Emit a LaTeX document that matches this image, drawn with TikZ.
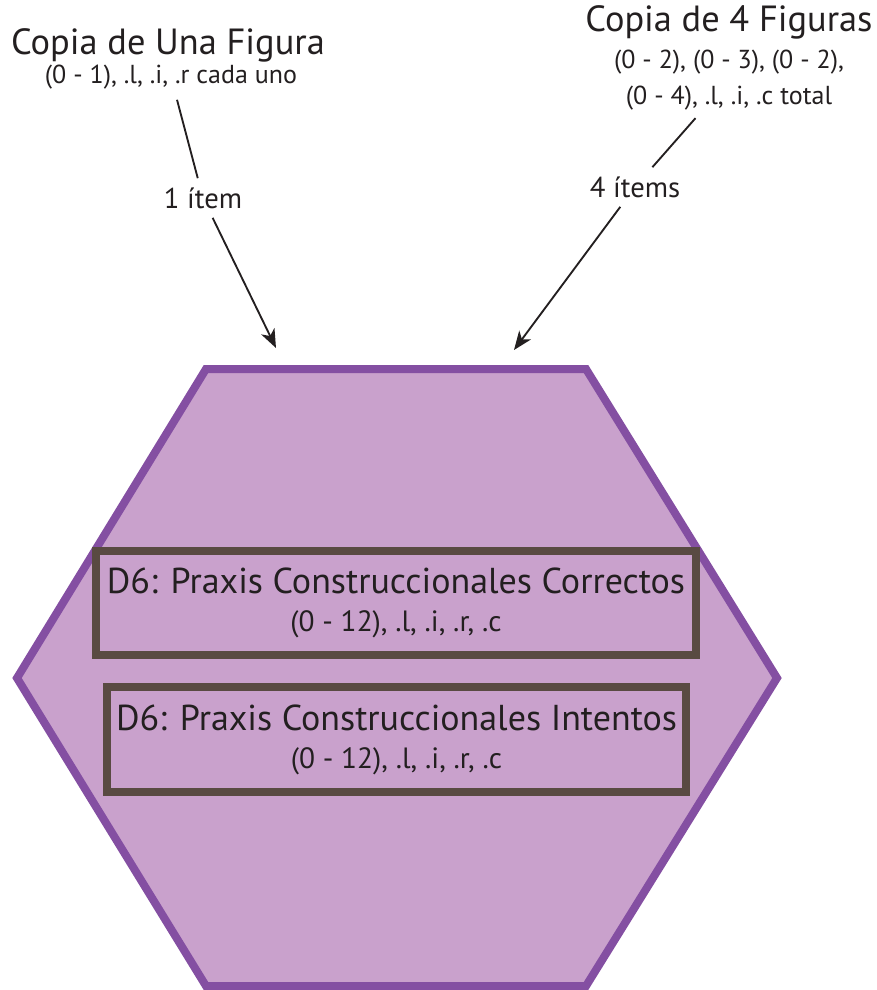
\documentclass[tikz,border=0pt]{standalone}
\usepackage{fontspec}
\setmainfont{PT Sans}
\usetikzlibrary{arrows.meta}
\definecolor{hexfill}{RGB}{201,161,204}
\definecolor{hexline}{RGB}{132,79,162}
\definecolor{boxline}{RGB}{89,74,66}
\definecolor{ink}{RGB}{35,31,32}
\tikzset{
  title/.style={text=ink, font=\fontsize{27.3}{30}\selectfont, inner sep=0pt},
  sub/.style={text=ink, font=\fontsize{19.5}{27}\selectfont, inner sep=0pt, align=center},
  lbl/.style={text=ink, font=\fontsize{21.5}{24}\selectfont, inner sep=2pt, outer sep=5pt},
  box/.style={draw=boxline, line width=6pt, align=center, text=ink, inner sep=0pt, font=\fontsize{27}{28.5}\selectfont},
  arr/.style={draw=ink, line width=1.4pt, -{Stealth[length=14pt,width=11pt,inset=4pt]}},
  link/.style={draw=ink, line width=1.4pt}
}
\newcommand{\boxsub}[1]{{\fontsize{22}{28.5}\selectfont #1}}
\begin{document}
\begin{tikzpicture}[x=0.75pt,y=0.75pt,yscale=-1]
\useasboundingbox (0,0) rectangle (876,990);

%Shape: Hexagon
\draw [draw=hexline, fill=hexfill, line width=6pt, line join=miter] (206,369) -- (586,369) -- (777,678) -- (586,986) -- (206,986) -- (17,678) -- cycle ;

% Text Node
\node [title] (una) at (168,45) {Copia de Una Figura};
% Text Node
\node [sub, outer sep=8pt] (unasub) at (171,77) {(0 - 1), .l, .i, .r cada uno};
% Text Node
\node [title] (cuatro) at (729,22) {Copia de 4 Figuras};
% Text Node
\node [sub, outer sep=6pt] (cuatrosub) at (729,80) {(0 - 2), (0 - 3), (0 - 2),\\(0 - 4), .l, .i, .c total};

% Text Node
\node [lbl] (item1) at (203,198) {1 ítem};
% Text Node
\node [lbl] (item4) at (635,187) {4 ítems};

\coordinate (tip1) at (276,348);
\coordinate (tip4) at (514,350);

%Straight Lines
\draw [link] (unasub) -- (item1) ;
\draw [arr] (item1) -- (tip1) ;
%Straight Lines
\draw [link] (cuatrosub) -- (item4) ;
\draw [arr] (item4) -- (tip4) ;

% Boxes
\node [box, minimum width=450pt, minimum height=78pt] (correctos) at (396,603)
  {D6: Praxis Construccionales Correctos\\\boxsub{(0 - 12), .l, .i, .r, .c}};
\node [box, minimum width=434pt, minimum height=79pt] (intentos) at (396.5,739.5)
  {D6: Praxis Construccionales Intentos\\\boxsub{(0 - 12), .l, .i, .r, .c}};

\end{tikzpicture}
\end{document}
